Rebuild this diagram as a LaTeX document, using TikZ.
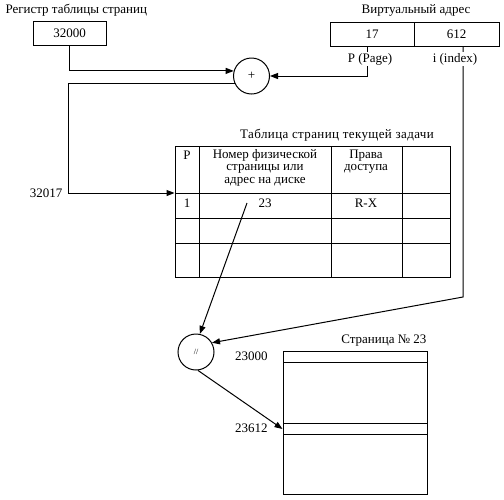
\documentclass[tikz,border=0pt]{standalone}
\usepackage{fontspec}
\setmainfont{Liberation Serif}
\usetikzlibrary{arrows.meta}
\begin{document}
\begin{tikzpicture}[x=1pt,y=-1pt,line width=1pt,
  txt/.style={font=\fontsize{13}{14}\selectfont,inner sep=0pt},
  valbox/.style={draw,txt,minimum height=24pt},
  arr/.style={-{Triangle[length=8pt,width=6pt]}},
  op/.style={draw,circle,minimum size=36pt,inner sep=0pt,txt}]
\useasboundingbox (0,0) rectangle (504,499);
% page-table register
\node[txt,anchor=base west] (regtitle) at (5,13) {Регистр таблицы страниц};
\node[valbox,minimum width=73pt] (reg) at (69.5,33.5) {32000};
% virtual address
\node[txt,anchor=base] (vatitle) at (416,13) {Виртуальный адрес};
\node[valbox,minimum width=84pt] (vp) at (372,34) {17};
\node[valbox,minimum width=85pt] (vi) at (456.5,34) {612};
% adder
\node[op] (plus) at (251.5,76) {+};
% page table
\node[txt,anchor=base,font=\fontsize{13}{14}\selectfont\addfontfeatures{LetterSpace=3}] (tabtitle) at (337,138) {Таблица страниц текущей задачи};
\node[draw,minimum width=275pt,minimum height=131pt,inner sep=0pt] (tab) at (312.5,211.5) {};
\draw (199,146) -- (199,277);
\draw (331,146) -- (331,277);
\draw (402,146) -- (402,277);
\draw (175,193) -- (450,193);
\draw (175,218) -- (450,218);
\draw (175,243) -- (450,243);
\node[txt,anchor=base] (hp) at (187,159) {P};
\node[txt,anchor=base] (hn1) at (265,158) {Номер физической};
\node[txt,anchor=base] (hn2) at (265,170.5) {страницы или};
\node[txt,anchor=base] (hn3) at (265,183) {адрес на диске};
\node[txt,anchor=base] (hr1) at (366,158) {Права};
\node[txt,anchor=base] (hr2) at (366,170.5) {доступа};
\node[txt,anchor=base] (r1p) at (187,207) {1};
\node[txt,anchor=base] (r1n) at (265,207) {23};
\node[txt,anchor=base] (r1r) at (366,207) {R-X};
\coordinate (s23) at (247,203);
% concatenation
\node[op,font=\fontsize{8}{9}\selectfont] (div) at (196,352) {//};
% page 23
\node[txt,anchor=base east] (pgtitle) at (427,343) {Страница № 23};
\node[draw,minimum width=144pt,minimum height=143pt,inner sep=0pt] (pg) at (355,422.5) {};
\draw (283,362) -- (427,362);
\draw (283,423) -- (427,423);
\draw (283,434) -- (427,434);
\node[txt,anchor=base east] (a0) at (268,360) {23000};
\node[txt,anchor=base east] (a1) at (268,432) {23612};
% connectors
\draw[arr] (reg.south) |- (plus.164);
\coordinate (k) at (68,193);
\draw[arr] (plus.205) -| (k) -- (k -| tab.west);
\node[txt,anchor=base east] (n32017) at (63,197) {32017};
\draw[arr] ([xshift=-5pt]vp.south) |- (plus.east);
\node[txt,fill=white,inner sep=1pt,anchor=base] (plbl) at (370,62) {P (Page)};
\coordinate (ib) at (463,297);
\draw[arr] ([xshift=6.5pt]vi.south) -- (ib) -- (div.30);
\node[txt,fill=white,inner sep=1pt,anchor=base] (ilbl) at (455,62) {i (index)};
\draw[arr] (s23) -- (div.78);
\draw[arr] (div.-84) -- (pg.west |- 0,429);
\end{tikzpicture}
\end{document}
